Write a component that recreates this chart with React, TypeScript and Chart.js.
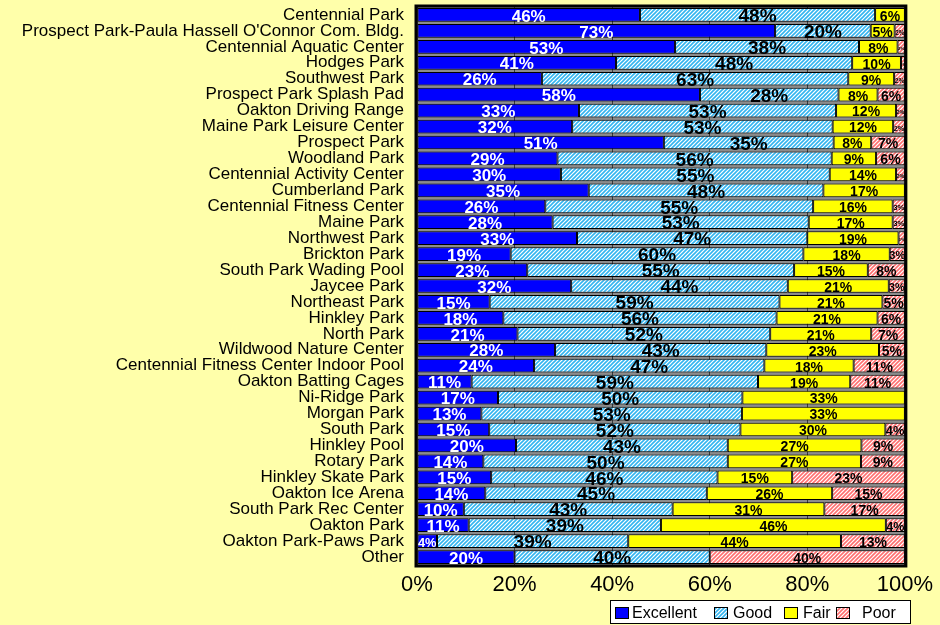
import React, { useEffect, useRef } from "react";
import { Chart, registerables } from "chart.js";

Chart.register(...registerables);

const facilities = [
  "Centennial Park",
  "Prospect Park-Paula Hassell O'Connor Com. Bldg.",
  "Centennial Aquatic Center",
  "Hodges Park",
  "Southwest Park",
  "Prospect Park Splash Pad",
  "Oakton Driving Range",
  "Maine Park Leisure Center",
  "Prospect Park",
  "Woodland Park",
  "Centennial Activity Center",
  "Cumberland Park",
  "Centennial Fitness Center",
  "Maine Park",
  "Northwest Park",
  "Brickton Park",
  "South Park Wading Pool",
  "Jaycee Park",
  "Northeast Park",
  "Hinkley Park",
  "North Park",
  "Wildwood Nature Center",
  "Centennial Fitness Center Indoor Pool",
  "Oakton Batting Cages",
  "Ni-Ridge Park",
  "Morgan Park",
  "South Park",
  "Hinkley Pool",
  "Rotary Park",
  "Hinkley Skate Park",
  "Oakton Ice Arena",
  "South Park Rec Center",
  "Oakton Park",
  "Oakton Park-Paws Park",
  "Other",
];

const excellent = [45.7, 73.4, 52.9, 40.8, 25.6, 58, 33.2, 31.8, 50.6, 28.8, 29.5, 35.2, 26.3, 27.8, 32.8, 19.2, 22.6, 31.6, 14.9, 17.7, 20.6, 28.3, 24, 11.2, 16.6, 13.2, 14.8, 20.3, 13.6, 15.2, 14, 9.6, 10.6, 4.1, 20];
const good = [48.2, 19.6, 37.7, 48.4, 62.8, 28.4, 52.7, 53.4, 34.8, 56.2, 55.1, 48.1, 54.9, 52.5, 47.2, 60, 54.7, 44.4, 59.4, 56, 51.8, 43.3, 47.2, 58.7, 50.1, 53.4, 51.5, 43.4, 50.1, 46.4, 45.4, 42.8, 39.4, 39.2, 40];
const fair = [6.1, 4.9, 7.9, 10, 9.4, 8, 12.3, 12.4, 7.7, 9.1, 13.6, 16.7, 16.3, 17.2, 18.7, 17.7, 15.1, 20.7, 21.1, 20.7, 20.7, 23.1, 18.3, 18.9, 33.3, 33.4, 29.7, 27.4, 27.3, 15.3, 25.7, 31.1, 46.1, 43.6, 0];
const poor = [0, 2.1, 1.5, 0.8, 2.2, 5.6, 1.8, 2.4, 6.9, 5.9, 1.8, 0, 2.5, 2.5, 1.3, 3.1, 7.6, 3.3, 4.6, 5.6, 6.9, 5.3, 10.5, 11.2, 0, 0, 4, 8.9, 9, 23.1, 14.9, 16.5, 3.9, 13.1, 40];

const seriesNames = ["Excellent", "Good", "Fair", "Poor"];
const xTicks = [0, 20, 40, 60, 80, 100];

const FONT = "'Liberation Sans', Arial, sans-serif";

function makeHatch(color: string): CanvasPattern | string {
  const c = document.createElement("canvas");
  c.width = 4;
  c.height = 4;
  const g = c.getContext("2d");
  if (!g) return color;
  g.fillStyle = "#ffffff";
  g.fillRect(0, 0, 4, 4);
  g.strokeStyle = color;
  g.lineWidth = 1.6;
  g.beginPath();
  g.moveTo(0, 4);
  g.lineTo(4, 0);
  g.moveTo(-1, 1);
  g.lineTo(1, -1);
  g.moveTo(3, 5);
  g.lineTo(5, 3);
  g.stroke();
  const p = g.createPattern(c, "repeat");
  return p || color;
}

export default function App() {
  const ref = useRef<HTMLCanvasElement | null>(null);

  useEffect(() => {
    const canvas = ref.current;
    if (!canvas) return;
    const goodFill = makeHatch("#33B5F0");
    const poorFill = makeHatch("#FF7070");
    const fills: any[] = ["#0000FF", goodFill, "#FFFF00", poorFill];
    const labelColors = ["#ffffff", "#000000", "#000000", "#000000"];
    const labelSizes = [17, 19, 14, 14];

    const bgPlugin = {
      id: "bg",
      beforeDraw(chart: any) {
        const { ctx, chartArea } = chart;
        ctx.save();
        ctx.fillStyle = "#FFFFAA";
        ctx.fillRect(0, 0, chart.width, chart.height);
        ctx.fillStyle = "#8c8c8c";
        ctx.fillRect(chartArea.left, chartArea.top, chartArea.right - chartArea.left, chartArea.bottom - chartArea.top);
        ctx.restore();
      },
    };

    const labelPlugin = {
      id: "seglabels",
      afterDatasetsDraw(chart: any) {
        const { ctx, chartArea } = chart;
        ctx.save();
        ctx.strokeStyle = "#000";
        ctx.lineWidth = 3;
        ctx.strokeRect(chartArea.left - 1, chartArea.top - 1, chartArea.right - chartArea.left + 2, chartArea.bottom - chartArea.top + 2);
        ctx.textAlign = "center";
        ctx.textBaseline = "middle";
        chart.data.datasets.forEach((ds: any, di: number) => {
          const meta = chart.getDatasetMeta(di);
          meta.data.forEach((el: any, i: number) => {
            const v = ds.data[i];
            if (!v) return;
            const txt = Math.round(v) + "%";
            const w = Math.abs(el.x - el.base);
            const cx = (el.x + el.base) / 2;
            let size = labelSizes[di];
            ctx.font = `bold ${size}px ${FONT}`;
            const tw = ctx.measureText(txt).width;
            if (tw > w - 1 && w > 14) {
              size = Math.max(size * (w - 1) / tw, 11);
            } else if (tw > w - 1) {
              size = Math.max(size * (w - 1) / tw, 4);
            }
            if (size < 3) return;
            ctx.font = `bold ${size}px ${FONT}`;
            ctx.fillStyle = labelColors[di];
            ctx.fillText(txt, cx, el.y + 2);
          });
        });
        ctx.restore();
      },
    };

    const legendPlugin = {
      id: "customLegend",
      afterDraw(chart: any) {
        const { ctx } = chart;
        ctx.save();
        ctx.fillStyle = "#ffffff";
        ctx.fillRect(610, 600, 301, 24);
        ctx.strokeStyle = "#000";
        ctx.lineWidth = 1;
        ctx.strokeRect(610.5, 600.5, 300, 23);
        const boxX = [615, 714, 784, 836];
        const textX = [632, 733, 803, 862];
        ctx.font = `16px ${FONT}`;
        ctx.textBaseline = "middle";
        ctx.textAlign = "left";
        seriesNames.forEach((n, i) => {
          ctx.fillStyle = fills[i];
          ctx.fillRect(boxX[i], 607, 14, 12);
          ctx.strokeStyle = "#000";
          ctx.strokeRect(boxX[i] + 0.5, 607.5, 13, 11);
          ctx.fillStyle = "#000";
          ctx.fillText(n, textX[i], 614);
        });
        ctx.restore();
      },
    };

    const values = [excellent, good, fair, poor];
    const chart = new Chart(canvas, {
      type: "bar",
      data: {
        labels: facilities,
        datasets: seriesNames.map((n, i) => ({
          label: n,
          data: values[i],
          backgroundColor: fills[i],
          borderColor: "#000000",
          borderWidth: 1,
          borderSkipped: false,
          barPercentage: 0.86,
          categoryPercentage: 1,
        })),
      },
      options: {
        indexAxis: "y",
        responsive: false,
        animation: false,
        devicePixelRatio: 1,
        layout: { padding: { top: 7, right: 31, bottom: 0, left: 0 } },
        plugins: {
          legend: { display: false },
          tooltip: { enabled: false },
          title: { display: false },
        },
        scales: {
          x: {
            stacked: true,
            min: 0,
            max: 100,
            border: { display: false },
            afterBuildTicks(scale: any) {
              scale.ticks = xTicks.map((v) => ({ value: v }));
            },
            afterFit(scale: any) {
              scale.height = 60;
            },
            grid: { color: "#3a3a3a", lineWidth: 1, drawTicks: false },
            ticks: {
              padding: 7,
              color: "#000",
              font: { family: FONT, size: 22 },
              callback: (v: any) => v + "%",
              maxRotation: 0,
            },
          },
          y: {
            stacked: true,
            border: { display: false },
            grid: { display: false, drawTicks: false },
            afterFit(scale: any) {
              scale.width = 417;
              scale.paddingTop = 0;
              scale.paddingBottom = 0;
            },
            ticks: {
              padding: 13,
              color: "#000",
              autoSkip: false,
              font: { family: FONT, size: 17 },
            },
          },
        },
      },
      plugins: [bgPlugin, labelPlugin, legendPlugin],
    } as any);
    return () => chart.destroy();
  }, []);

  return (
    <div style={{ position: "absolute", left: 0, top: 0, width: 940, height: 625 }}>
      <canvas ref={ref} width={940} height={625} style={{ display: "block", width: 940, height: 625 }} />
    </div>
  );
}
